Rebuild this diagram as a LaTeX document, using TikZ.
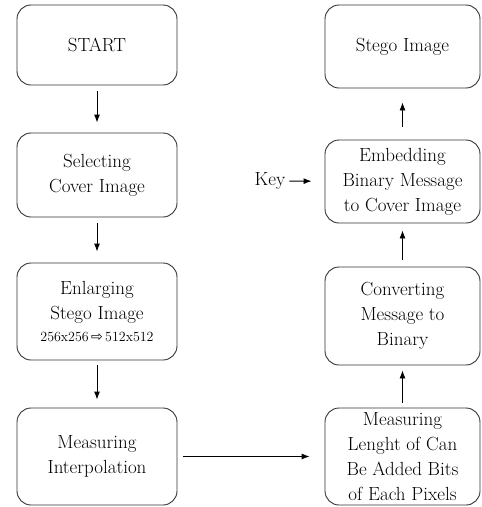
\documentclass[tikz,border=0pt]{standalone}
\usepackage{fontspec}
\newfontfamily\symfont{DejaVu Sans}
\usetikzlibrary{arrows.meta}
\begin{document}
\begin{tikzpicture}[x=1pt,y=-1pt,
  box/.style={draw=black!80,line width=0.9pt,rounded corners=14pt,align=center,
    inner sep=2pt,font=\fontsize{19}{25}\selectfont},
  lbox/.style={box,minimum width=160pt},
  rbox/.style={box,minimum width=155pt},
  conn/.style={line width=0.9pt,-{Latex[length=8pt,width=6pt]}}]
\useasboundingbox (0,0) rectangle (482,507);
\node[lbox,minimum height=80pt] (start) at (97,45) {START};
\node[lbox,minimum height=84pt] (sel) at (97,175) {Selecting\\Cover Image};
\node[lbox,minimum height=97pt] (enl) at (97,311.5) {Enlarging\\Stego Image\\[-3pt]{\fontsize{14}{16}\selectfont 256x256\,{\symfont ⇨}\,512x512}};
\node[lbox,minimum height=97pt] (interp) at (97,456.5) {Measuring\\Interpolation};
\node[rbox,minimum height=83pt] (stego) at (402.5,46.5) {Stego Image};
\node[rbox,minimum height=83pt] (emb) at (402.5,181.5) {Embedding\\Binary Message\\to Cover Image};
\node[rbox,minimum height=98pt] (conv) at (402.5,316) {Converting\\Message to\\Binary};
\node[rbox,minimum height=97pt] (len) at (402.5,456.5) {Measuring\\Lenght of Can\\Be Added Bits\\of Each Pixels};
\node[font=\fontsize{19}{25}\selectfont,inner sep=1pt] (key) at (270,181) {Key};
\draw[conn,shorten <=6pt,shorten >=10pt] (start) -- (sel);
\draw[conn,shorten <=6pt,shorten >=11pt] (sel) -- (enl);
\draw[conn,shorten <=5pt,shorten >=8pt] (enl) -- (interp);
\draw[conn,shorten <=6pt,shorten >=15pt] (interp) -- (len);
\draw[conn,shorten <=5pt,shorten >=5pt] (len) -- (conv);
\draw[conn,shorten <=7pt,shorten >=7pt] (conv) -- (emb);
\draw[conn,shorten <=13pt,shorten >=14pt] (emb) -- (stego);
\draw[conn,shorten <=3pt,shorten >=13pt] (key) -- (emb);
\end{tikzpicture}
\end{document}
